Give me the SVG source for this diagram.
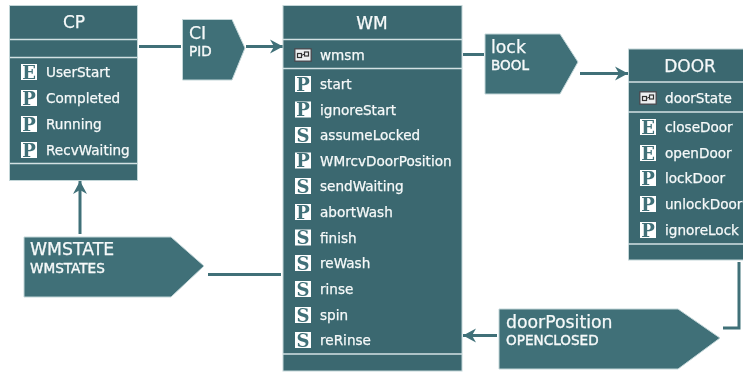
<svg xmlns="http://www.w3.org/2000/svg" width="743" height="373" viewBox="0 0 743 373">
<defs>
<filter id="soft" x="-2%" y="-2%" width="104%" height="104%"><feGaussianBlur stdDeviation="0.45"/></filter>
<marker id="arr" markerUnits="userSpaceOnUse" markerWidth="16" markerHeight="16" refX="14" refY="8" orient="auto"><path d="M1 1 L14 8 L1 15 L5 8 Z" fill="#3f7078"/></marker>
<g id="iS"><rect x="0" y="-8" width="16" height="16" fill="#fff"/><text x="8" y="6.500" class="ic">S</text></g>
<g id="iP"><rect x="0" y="-8" width="16" height="16" fill="#fff"/><text x="8" y="6.500" class="ic">P</text></g>
<g id="iE"><rect x="0" y="-8" width="16" height="16" fill="#fff"/><text x="8" y="6.500" class="ic">E</text></g>
<g id="iK"><rect x="0" y="-7" width="18" height="14" rx="1" fill="#4a4f55"/><rect x="1.5" y="-5.5" width="15" height="11" fill="#eef0f1"/><rect x="3.5" y="-1.500" width="4" height="4" fill="none" stroke="#333" stroke-width="1.2"/><rect x="10.500" y="-3" width="4" height="4" fill="none" stroke="#333" stroke-width="1.2"/><path d="M7.500 0.500 L10.500 -1" stroke="#333" stroke-width="1"/></g>
</defs>
<style>
.box{fill:#3a6870;stroke:#c3d6d8;stroke-width:1}
.tag{fill:#3f7078;stroke:#c3d6d8;stroke-width:1}
.sep{stroke:#d3e1e3;stroke-width:1.6;fill:none}
.con{stroke:#3f7078;stroke-width:3;fill:none}
text{font-family:"DejaVu Sans",sans-serif;fill:#f6f9f9;stroke:#f6f9f9;stroke-width:0.25px}
.ic{font-family:"DejaVu Serif",serif;font-weight:700;font-size:18px;fill:#3f7078;stroke:none;text-anchor:middle}
.t{font-size:17px;text-anchor:middle}
.r{font-size:13.600px}
.n{font-size:17.300px}
.s{font-size:13.600px;stroke-width:0.4px}
</style>
<g filter="url(#soft)">
<g id="connectors">
<path class="con" d="M139 46.500H181"/>
<path class="con" d="M246 46.500H283" marker-end="url(#arr)"/>
<path class="con" d="M463 54.500H484"/>
<path class="con" d="M580 73.500H628" marker-end="url(#arr)"/>
<path class="con" d="M80 234V181" marker-end="url(#arr)"/>
<path class="con" d="M208 274.500H281"/>
<path class="con" d="M497 335.500H463" marker-end="url(#arr)"/>
<path class="con" d="M739 262V328H723"/>
</g>
<g id="CP">
<rect class="box" x="9.500" y="5.500" width="128" height="175"/>
<path class="sep" d="M10 39.500H137M10 57.500H137M10 163.500H137"/>
<text class="t" x="74" y="28">CP</text>
<use href="#iE" x="21" y="72"/><text class="r" x="46" y="77">UserStart</text>
<use href="#iP" x="21" y="98"/><text class="r" x="46" y="103">Completed</text>
<use href="#iP" x="21" y="124"/><text class="r" x="46" y="129">Running</text>
<use href="#iP" x="21" y="150"/><text class="r" x="46" y="155">RecvWaiting</text>
</g>
<g id="CI">
<polygon class="tag" points="182.500,19.500 232,19.500 245,48 232,80 182.500,80"/>
<text class="n" x="189" y="39">CI</text><text class="s" x="189" y="56">PID</text>
</g>
<g id="WM">
<rect class="box" x="283" y="5.500" width="179" height="365.500"/>
<path class="sep" d="M283 39.500H462M283 68.500H462M283 354H462"/>
<text class="t" x="372" y="29">WM</text>
<use href="#iK" x="294" y="55"/><text class="r" x="320" y="59.500">wmsm</text>
<use href="#iP" x="295" y="84"/><text class="r" x="320" y="89">start</text>
<use href="#iP" x="295" y="109.500"/><text class="r" x="320" y="114.500">ignoreStart</text>
<use href="#iS" x="295" y="135"/><text class="r" x="320" y="140">assumeLocked</text>
<use href="#iP" x="295" y="160.500"/><text class="r" x="320" y="165.500">WMrcvDoorPosition</text>
<use href="#iS" x="295" y="186"/><text class="r" x="320" y="191">sendWaiting</text>
<use href="#iP" x="295" y="212"/><text class="r" x="320" y="217">abortWash</text>
<use href="#iS" x="295" y="237.500"/><text class="r" x="320" y="242.500">finish</text>
<use href="#iS" x="295" y="263"/><text class="r" x="320" y="268">reWash</text>
<use href="#iS" x="295" y="289"/><text class="r" x="320" y="294">rinse</text>
<use href="#iS" x="295" y="315"/><text class="r" x="320" y="320">spin</text>
<use href="#iS" x="295" y="340"/><text class="r" x="320" y="345">reRinse</text>
</g>
<g id="lock">
<polygon class="tag" points="485,34 560,34 578,62 560,94 485,94"/>
<text class="n" x="491" y="53">lock</text><text class="s" x="491" y="70">BOOL</text>
</g>
<g id="DOOR">
<rect class="box" x="628.500" y="49" width="116" height="211"/>
<path class="sep" d="M628 82H743M628 112H743M628 244H743"/>
<text class="t" x="690" y="72">DOOR</text>
<use href="#iK" x="639" y="98"/><text class="r" x="665" y="103">doorState</text>
<use href="#iE" x="640" y="127"/><text class="r" x="665" y="132">closeDoor</text>
<use href="#iE" x="640" y="153"/><text class="r" x="665" y="158">openDoor</text>
<use href="#iP" x="640" y="178"/><text class="r" x="665" y="183">lockDoor</text>
<use href="#iP" x="640" y="204"/><text class="r" x="665" y="209">unlockDoor</text>
<use href="#iP" x="640" y="230"/><text class="r" x="665" y="235">ignoreLock</text>
</g>
<g id="WMSTATE">
<polygon class="tag" points="24,237 171,237 204,266 171,297 24,297"/>
<text class="n" x="30" y="255">WMSTATE</text><text class="s" x="30" y="273">WMSTATES</text>
</g>
<g id="doorPosition">
<polygon class="tag" points="499,309 678,309 720,338 678,369 499,369"/>
<text class="n" x="506" y="328">doorPosition</text><text class="s" x="506" y="345">OPENCLOSED</text>
</g>
</g>
</svg>
